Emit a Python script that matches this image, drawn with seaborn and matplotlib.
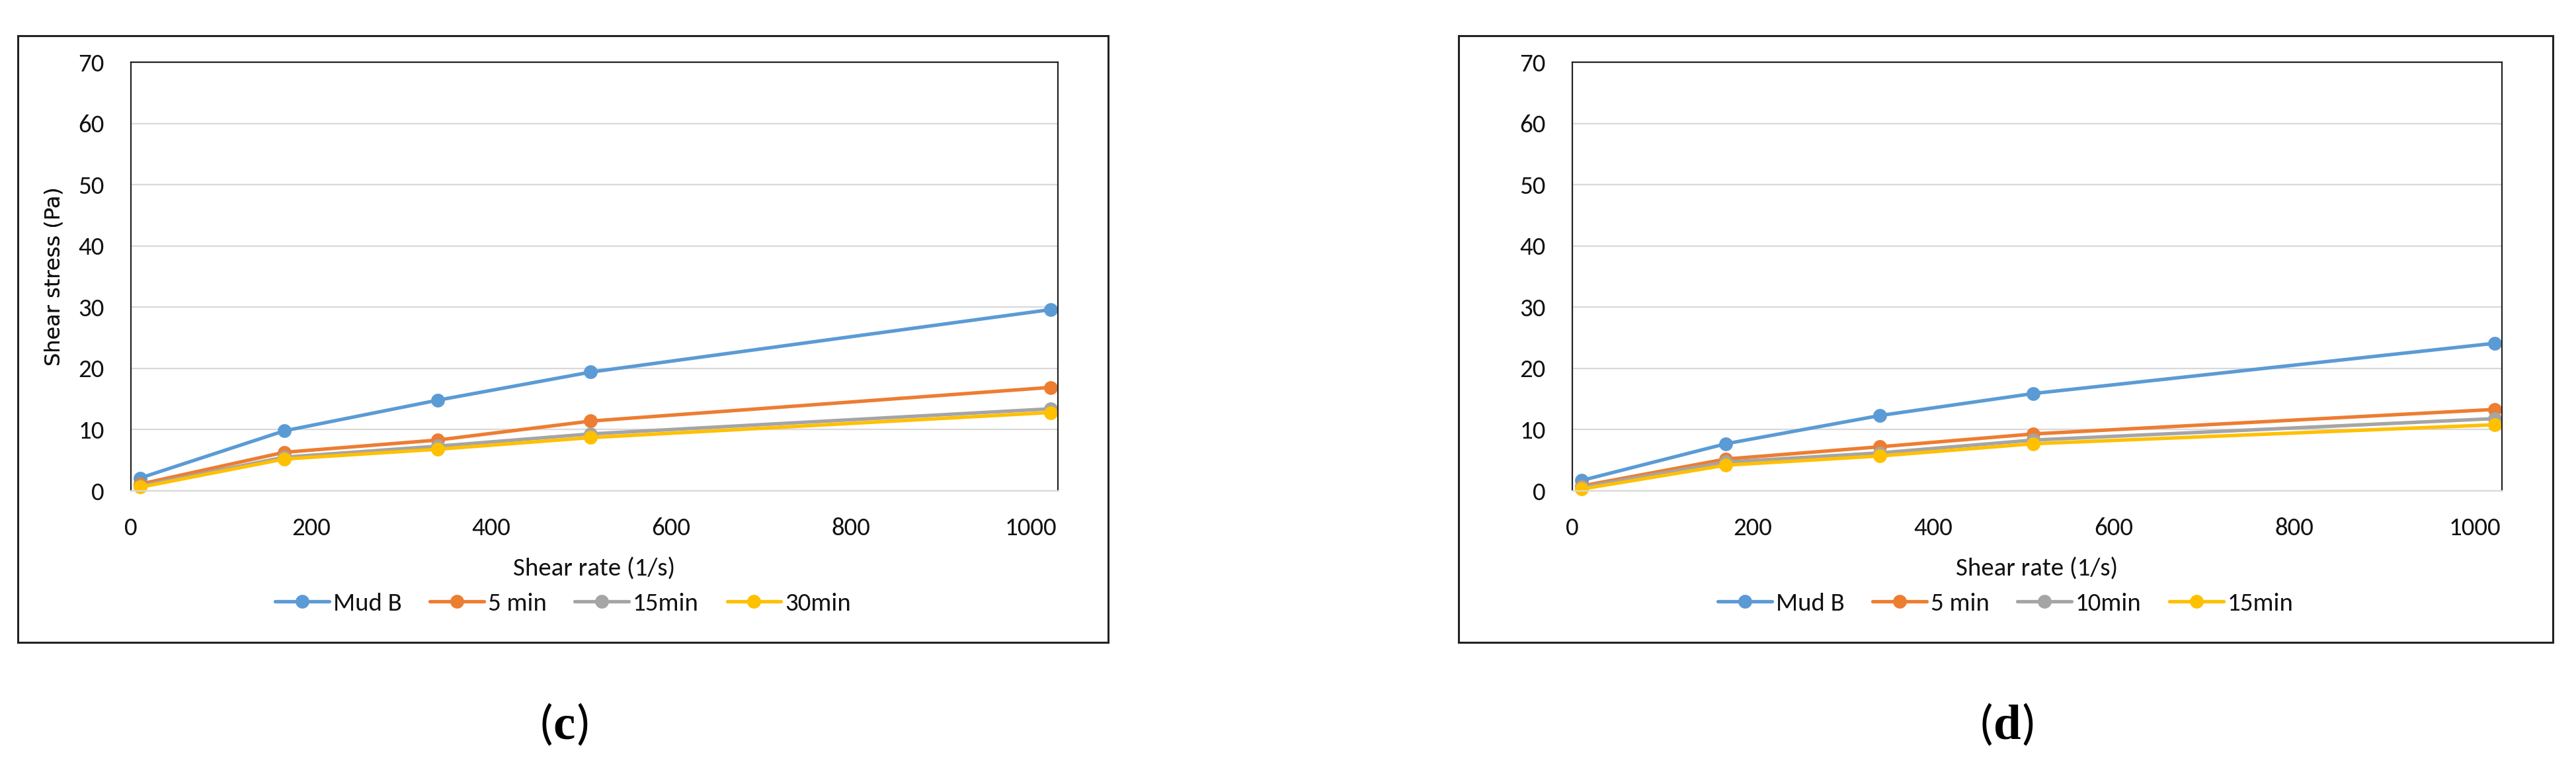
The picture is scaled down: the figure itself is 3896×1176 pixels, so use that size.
import pandas as pd
import seaborn as sns
import matplotlib.pyplot as plt
from matplotlib import font_manager
from matplotlib.patches import Rectangle

# shear rates of the Fann readings (1/s)
shear_rate = [10.22, 170.3, 340.6, 510.9, 1021.8]

# panel (c)
c_labels = ["Mud B", "5 min", "15min", "30min"]
c_mud = [2.1, 9.8, 14.8, 19.4, 29.6]
c_5min = [1.1, 6.3, 8.3, 11.4, 16.9]
c_15min = [0.8, 5.5, 7.3, 9.3, 13.4]
c_30min = [0.6, 5.2, 6.8, 8.7, 12.8]

# panel (d)
d_labels = ["Mud B", "5 min", "10min", "15min"]
d_mud = [1.7, 7.7, 12.3, 15.9, 24.1]
d_5min = [0.8, 5.2, 7.2, 9.3, 13.3]
d_10min = [0.6, 4.7, 6.2, 8.3, 11.8]
d_15min = [0.3, 4.2, 5.7, 7.7, 10.8]

colors = ["#5B9BD5", "#ED7D31", "#A5A5A5", "#FFC000"]

W, H = 3896, 1176

# pick a narrow font close to Calibri, whatever is installed
installed = {f.name for f in font_manager.fontManager.ttflist}
narrow = "DejaVu Sans"
for name in ["Carlito", "Liberation Sans Narrow", "Open Sans Condensed", "Roboto Condensed",
             "PT Sans Narrow", "Fira Sans Condensed", "IBM Plex Sans Condensed",
             "Sofia Sans Semi Condensed"]:
    if name in installed:
        narrow = name
        break

sns.set_theme(style="white")
plt.rcParams["font.family"] = [narrow, "DejaVu Sans"]
plt.rcParams["mathtext.fontset"] = "custom"
plt.rcParams["mathtext.rm"] = "Liberation Serif"
plt.rcParams["mathtext.bf"] = "Liberation Serif:bold"


def fx(px):
    return px / W


def fy(py):
    return 1 - py / H


def make_frame(labels, series):
    rows = []
    for name, vals in zip(labels, series):
        for x, y in zip(shear_rate, vals):
            rows.append({"rate": x, "stress": y, "series": name})
    return pd.DataFrame(rows)


def draw_panel(fig, box, plot, labels, series, caption):
    # outer chart frame
    bx0, by0, bx1, by1 = box
    fig.patches.append(Rectangle((fx(bx0), fy(by1)), fx(bx1) - fx(bx0), fy(by0) - fy(by1),
                                 transform=fig.transFigure, fill=False,
                                 edgecolor="#222222", linewidth=2.2, zorder=0))
    px0, py0, px1, py1 = plot
    ax = fig.add_axes([fx(px0), fy(py1), fx(px1) - fx(px0), fy(py0) - fy(py1)])

    df = make_frame(labels, series)
    sns.lineplot(data=df, x="rate", y="stress", hue="series", hue_order=labels,
                 palette=colors, marker="o", markersize=15, markeredgewidth=0,
                 linewidth=3.8, errorbar=None, legend=False, ax=ax, clip_on=False)

    ax.set_xlim(0, 1030)
    ax.set_ylim(0, 70)
    ax.set_xticks(range(0, 1001, 200))
    ax.set_yticks(range(0, 71, 10))
    ax.tick_params(axis="both", length=0, labelsize=28, colors="#111111", pad=29)
    ax.grid(axis="y", color="#D9D9D9", linewidth=1.6)
    ax.set_axisbelow(True)
    for side in ["left", "top", "right"]:
        ax.spines[side].set_color("#222222")
        ax.spines[side].set_linewidth(1.6)
    ax.spines["bottom"].set_color("#D9D9D9")
    ax.spines["bottom"].set_linewidth(1.6)

    ax.set_xlabel("Shear rate (1/s)", fontsize=28, color="#111111")
    ax.xaxis.label.set_va("center")
    ax.xaxis.set_label_coords(0.5, (py1 - 860) / (py1 - py0))
    ax.set_ylabel("Shear stress (Pa)", fontsize=23, color="#111111", family="DejaVu Sans")
    ax.yaxis.label.set_va("center")
    ax.yaxis.set_label_coords((82 - px0) / (px1 - px0), 0.5)

    handles = ax.get_lines()[:len(labels)]
    fig.legend(handles, labels, loc="center", bbox_to_anchor=(fx((bx0 + bx1) / 2), fy(912)),
               bbox_transform=fig.transFigure, ncol=4, frameon=False, fontsize=28,
               handlelength=2.1, handletextpad=0.15, columnspacing=1.1,
               labelcolor="#111111")

    fig.text(fx((bx0 + bx1) / 2), fy(1095), caption, ha="center", va="center",
             fontsize=54, color="black")
    return ax


fig = plt.figure(figsize=(W / 100, H / 100), dpi=100)
fig.patch.set_facecolor("white")

draw_panel(fig, (27, 54, 1676, 971), (198, 94, 1600, 742), c_labels,
           [c_mud, c_5min, c_15min, c_30min], r"($\mathbf{c}$)")
draw_panel(fig, (2206, 54, 3861, 971), (2378, 94, 3784, 742), d_labels,
           [d_mud, d_5min, d_10min, d_15min], r"($\mathbf{d}$)")

fig.savefig("out.png", dpi=100, facecolor="white")
